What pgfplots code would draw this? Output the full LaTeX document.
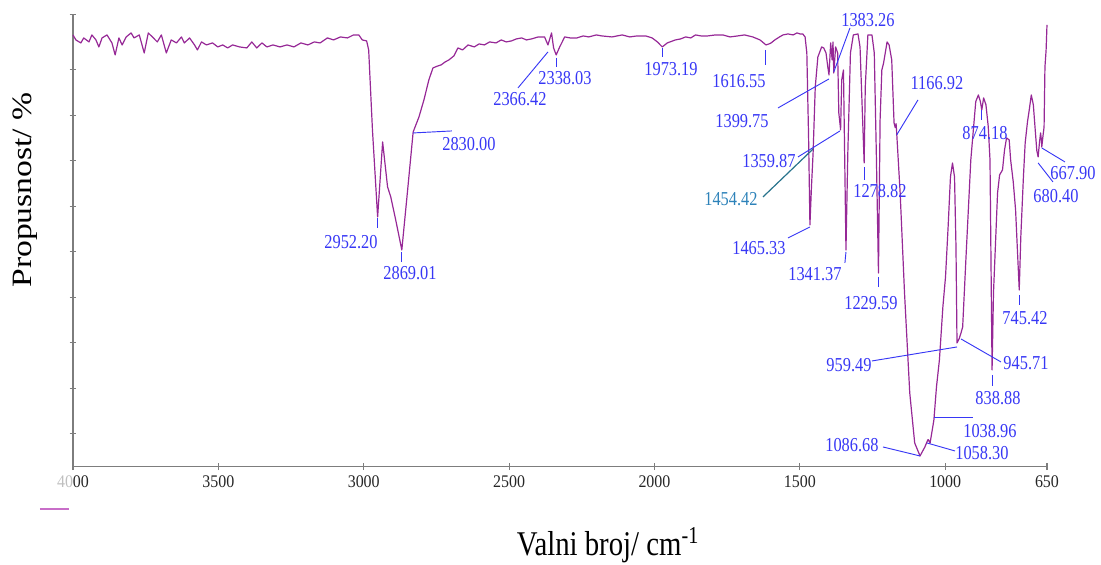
\documentclass[border=0pt]{standalone}
\usepackage{pgfplots}
\pgfplotsset{compat=1.18}
\usepackage{fontspec}
\setmainfont{Liberation Serif}
\newfontfamily\serifc[FakeStretch=0.83]{Liberation Serif}
\newfontfamily\serift[FakeStretch=0.9]{Liberation Serif}
\newfontfamily\serify[FakeStretch=1.2]{Liberation Serif}
\definecolor{trace}{RGB}{150,40,150}
\definecolor{lblue}{RGB}{55,55,245}
\definecolor{lteal}{RGB}{45,130,185}
\definecolor{lteal2}{RGB}{40,115,140}
\definecolor{axgray}{RGB}{125,125,125}
\definecolor{legpurple}{RGB}{200,110,200}
\pgfplotstableread{
wn y
4000 431.7
3990 426.7
3973 423.7
3963 428.7
3945 424.7
3935 431.7
3921 426.7
3911 419.7
3900 428.7
3883 431.7
3866 423.7
3855 411.7
3842 428.7
3831 421.7
3817 429.7
3800 433.7
3790 428.7
3772 431.7
3755 413.7
3741 433.7
3727 429.7
3710 424.7
3696 431.7
3679 413.7
3662 426.7
3644 423.7
3627 429.7
3617 423.7
3599 428.7
3582 421.7
3572 416.7
3558 424.7
3541 421.7
3520 423.7
3502 419.7
3485 421.7
3468 418.7
3451 421.7
3427 419.7
3402 418.7
3385 424.7
3368 418.7
3350 423.7
3333 419.7
3312 421.7
3288 419.7
3264 421.7
3240 419.7
3216 423.7
3192 421.7
3170 424.7
3150 423.7
3125 428.7
3104 426.7
3080 429.7
3056 428.7
3035 431.7
3017 431.7
3005 426.7
2990 425.7
2983 416.7
2970 336.7
2952.2 249.7
2935 324.7
2918 279.7
2907 269.7
2890 246.7
2869.01 216.7
2848 279.7
2830 334.7
2810 349.7
2793 366.7
2776 386.7
2762 398.7
2745 400.7
2734 401.7
2720 404.7
2707 406.7
2690 410.7
2676 418.7
2660 416.7
2641 421.7
2620 419.7
2603 422.7
2585 421.7
2567 424.7
2545 423.7
2527 426.7
2510 424.7
2492 425.7
2475 427.7
2457 428.7
2440 426.7
2423 427.7
2400 429.7
2378 429.7
2366.42 421.7
2354 433.7
2347 418.7
2338.03 411.7
2326 419.7
2319 423.7
2309 429.7
2290 428.7
2267 428.7
2245 430.7
2226 429.7
2200 431.7
2181 430.7
2146 429.7
2111 431.7
2085 429.7
2060 430.7
2030 430.7
2008 428.7
1990 424.7
1973.19 419.7
1956 423.7
1928 426.7
1910 427.7
1893 429.7
1875 428.7
1859 431.7
1840 430.7
1817 430.7
1790 431.7
1765 431.7
1740 429.7
1714 430.7
1690 431.7
1662 429.7
1637 426.7
1616.55 421.7
1606 422.7
1599 423.7
1586 426.7
1570 429.7
1558 431.7
1541 432.7
1523 431.7
1510 433.7
1499 432.7
1490 432.7
1482 429.7
1476 413.7
1470 330
1465.33 241.7
1460 280
1454.42 313.7
1447 379.7
1438 409.7
1425 419.7
1418 418.7
1410 413.7
1404 400
1399.75 391.7
1394 423.7
1389 406.7
1386 424.7
1383.26 393.7
1377 419.7
1370 413.7
1366 353.7
1362 343
1359.87 336.7
1356 386.7
1350 396.7
1346 313.7
1341.37 216.7
1335 313.7
1326 413.7
1316 431.7
1300 432.7
1293 419.7
1278.82 303.7
1275 379.7
1266 431.7
1252 431.7
1244 413.7
1237 313.7
1229.59 193.7
1224 346.7
1218 396.7
1212 403.7
1200 424.7
1193 421.7
1184 406.7
1176 343.7
1172 339
1169 343
1166.92 333.7
1155 273.7
1140 173.7
1122 73.7
1105 23.7
1086.68 10.7
1070 19.7
1060 26.7
1058.3 27
1052 23.7
1038.96 46.7
1030 80
1020 106.7
1008 160
999 189.7
990 240
982 289.7
975 303.7
968 289.7
963 220
959.49 123.7
952 128
945.71 133.7
940 139.7
929 206.7
912 306.7
895 365
886 371.7
879 365
874.18 356.7
868 368.7
860 362
852 340
846 306.7
838.88 96.7
834 173.7
820 273.7
813 291.7
803 296.7
796 316.7
789 328.7
780 326.7
775 306.7
766 284.7
758 256.7
745.42 176.7
740 230
731 290
725 323.7
717 345
711 356.7
704 371.7
697 362
690 335
685 316
680.40 309.7
676 323.7
672 333.7
669 326
667.90 319.7
664 330
660 339.7
657 399.7
653 416.7
650 441.7
}\spectrum
\begin{document}
\begin{tikzpicture}
\useasboundingbox (-54.75pt,-73.7pt) rectangle (771pt,350pt);
\begin{axis}[
  scale only axis,
  width=730.5pt, height=338.8pt,
  xmin=650, xmax=4000, ymin=0, ymax=451.7,
  x dir=reverse,
  axis x line=bottom, axis y line=left,
  axis line style={axgray, line width=1.2pt, -},
  xtick={650,1000,1500,2000,2500,3000,3500,4000},
  xticklabels={650,1000,1500,2000,2500,3000,3500,{\textcolor{black!25}{40}00}},
  xticklabel style={font=\serift\fontsize{13.3}{15}\selectfont, text=black!85, yshift=-1pt},
  ytick={32.7,78.2,123.7,169.2,214.7,260.2,305.7,351.2,396.7,451.7},
  yticklabels={},
  tick align=center,
  major tick length=5pt,
  tick style={axgray, line width=0.8pt},
  clip=false,
]
\addplot[trace, line width=0.9pt, line join=round] table[x=wn,y=y] {\spectrum};

\begin{scope}[every node/.style={font=\serifc\fontsize{14.8}{16}\selectfont, text=lblue, inner sep=0pt}]
\draw[lblue, line width=0.7pt] (axis cs:2952.2,248.7) -- (axis cs:2952.2,238.7);
\node at (axis cs:3043.8,224.7) {2952.20};
\draw[lblue, line width=0.7pt] (axis cs:2869.01,214.7) -- (axis cs:2869.01,204.7);
\node at (axis cs:2840.9,193.7) {2869.01};
\draw[lblue, line width=0.7pt] (axis cs:2830,333.7) -- (axis cs:2696.5,335.7);
\node at (axis cs:2638,322.7) {2830.00};
\draw[lblue, line width=0.7pt] (axis cs:2469.5,378.7) -- (axis cs:2366.42,414.7);
\node at (axis cs:2462.6,367.7) {2366.42};
\draw[lblue, line width=0.7pt] (axis cs:2338.03,408.7) -- (axis cs:2338.03,399.7);
\node at (axis cs:2307.8,388.7) {2338.03};
\draw[lblue, line width=0.7pt] (axis cs:1973.19,418.7) -- (axis cs:1973.19,409.7);
\node at (axis cs:1943.2,397.7) {1973.19};
\draw[lblue, line width=0.7pt] (axis cs:1616.55,416.7) -- (axis cs:1616.55,401.7);
\node at (axis cs:1709.4,385.7) {1616.55};
\draw[lblue, line width=0.7pt] (axis cs:1575.2,358.7) -- (axis cs:1399.75,387.7);
\node at (axis cs:1699,345.7) {1399.75};
\draw[lblue, line width=0.7pt] (axis cs:1327.6,438.7) -- (axis cs:1383.26,394.7);
\node at (axis cs:1265.7,446.7) {1383.26};
\draw[lblue, line width=0.7pt] (axis cs:1506.4,309.7) -- (axis cs:1362,335.7);
\node at (axis cs:1606.2,305.7) {1359.87};
\draw[lteal2, line width=0.9pt] (axis cs:1626.8,269.7) -- (axis cs:1454.42,317.7);
\node[text=lteal] at (axis cs:1736.9,267.7) {1454.42};
\draw[lblue, line width=0.7pt] (axis cs:1540.8,228.7) -- (axis cs:1465.33,239.7);
\node at (axis cs:1640.6,218.7) {1465.33};
\draw[lblue, line width=0.7pt] (axis cs:1345,203.7) -- (axis cs:1341.37,214.7);
\node at (axis cs:1448,192.7) {1341.37};
\draw[lblue, line width=0.7pt] (axis cs:1278.82,299.7) -- (axis cs:1278.82,286.7);
\node at (axis cs:1224.4,275.7) {1278.82};
\draw[lblue, line width=0.7pt] (axis cs:1229.59,189.7) -- (axis cs:1229.59,179.7);
\node at (axis cs:1255.4,163.7) {1229.59};
\draw[lblue, line width=0.7pt] (axis cs:1093.7,366.7) -- (axis cs:1166.92,331.7);
\node at (axis cs:1028.4,383.7) {1166.92};
\draw[lblue, line width=0.7pt] (axis cs:874.18,356.7) -- (axis cs:874.18,346.7);
\node at (axis cs:863.3,333.7) {874.18};
\draw[lblue, line width=0.7pt] (axis cs:588.1,304.7) -- (axis cs:667.9,318.7);
\node at (axis cs:560.6,293.7) {667.90};
\draw[lblue, line width=0.7pt] (axis cs:629.4,284.7) -- (axis cs:680.4,303.7);
\node at (axis cs:619.1,270.7) {680.40};
\draw[lblue, line width=0.7pt] (axis cs:745.42,171.7) -- (axis cs:745.42,161.7);
\node at (axis cs:725.7,148.7) {745.42};
\draw[lblue, line width=0.7pt] (axis cs:1251.9,105.7) -- (axis cs:959.49,119.7);
\node at (axis cs:1331,101.7) {959.49};
\draw[lblue, line width=0.7pt] (axis cs:808.2,104.7) -- (axis cs:945.71,127.7);
\node at (axis cs:722.3,103.7) {945.71};
\draw[lblue, line width=0.7pt] (axis cs:838.88,91.7) -- (axis cs:838.88,80.7);
\node at (axis cs:818.6,68.7) {838.88};
\draw[lblue, line width=0.7pt] (axis cs:1038.96,48.7) -- (axis cs:904.5,48.7);
\node at (axis cs:846.1,35.7) {1038.96};
\draw[lblue, line width=0.7pt] (axis cs:1062.8,23.7) -- (axis cs:966.4,15.7);
\node at (axis cs:873.6,13.7) {1058.30};
\draw[lblue, line width=0.7pt] (axis cs:1214.1,19.7) -- (axis cs:1086.68,10.7);
\node at (axis cs:1320.7,21.7) {1086.68};
\end{scope}

\draw[legpurple, line width=1.2pt] (axis cs:4113.5,-42.3) -- (axis cs:4013.8,-42.3);
\node[font=\serifc\fontsize{26}{30}\selectfont, inner sep=0pt] at (axis cs:2160,-78.3) {Valni broj/ cm\textsuperscript{-1}};
\node[font=\serify\fontsize{21}{24}\selectfont, inner sep=0pt, rotate=90] at (axis cs:4165,276.7) {Propusnost/ \%};
\end{axis}
\end{tikzpicture}
\end{document}
